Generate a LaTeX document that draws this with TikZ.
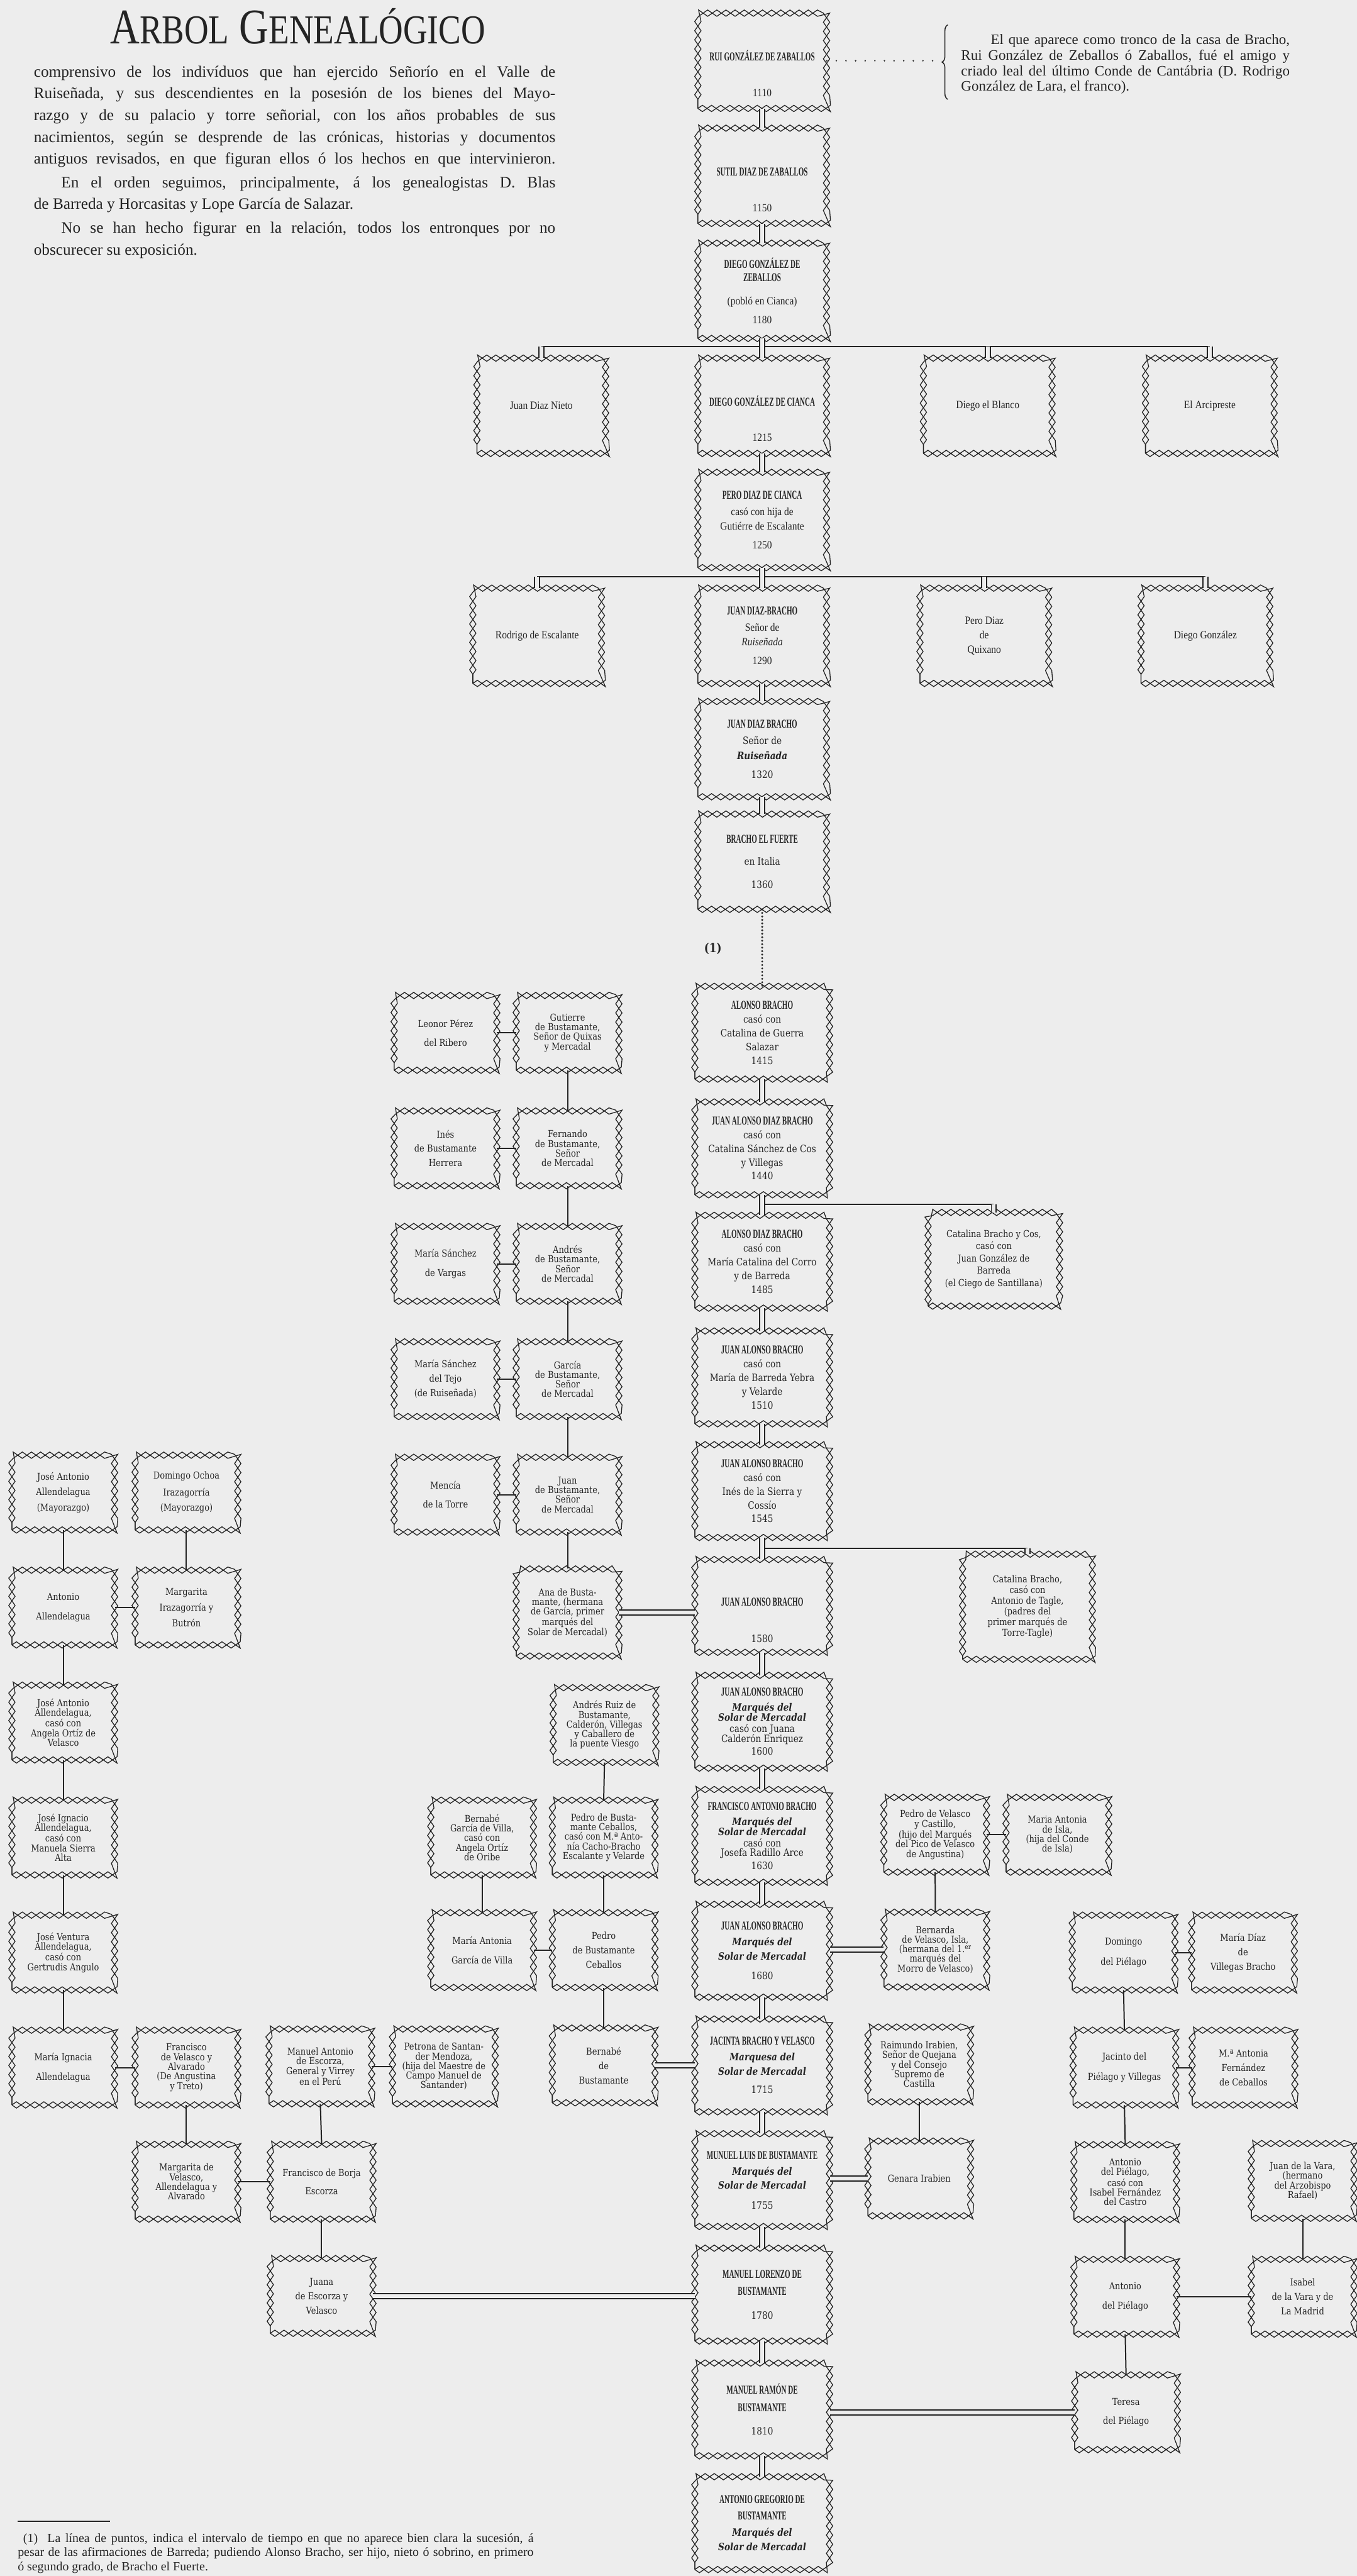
\documentclass[tikz,border=0pt]{standalone}
\usepackage{fontspec}
\usepackage{graphicx}
\setmainfont{Liberation Serif}
\newfontfamily\condfont[FakeStretch=0.88]{Liberation Serif}
\newfontfamily\namefont[FakeStretch=0.58]{Liberation Serif}
\newfontfamily\titlefont[FakeStretch=0.6]{Liberation Serif}
\newfontfamily\boxfont[FakeStretch=0.85]{DejaVu Serif}
\usepackage{tikz}
\usetikzlibrary{decorations.pathmorphing, decorations.pathreplacing}
\definecolor{paper}{gray}{.93}
\definecolor{ink}{gray}{.14}
\newcommand\nm[1]{{\namefont\bfseries\fontsize{12.5}{12.5}\selectfont #1}}
\newcommand\mq[1]{{\bfseries\itshape #1}}
\newcommand\bx[1]{{\boxfont\fontsize{10.5}{10.5}\selectfont #1}}
\newcommand\jline[2]{\makebox[#1][s]{#2}}
\tikzstyle{lattice} = [inner sep=0pt, align=center, text=ink,
    preaction={draw=ink, line width=.85pt, decorate,
        decoration={zigzag, amplitude=3.3pt, segment length=19pt}},
    postaction={draw=ink, line width=.85pt, decorate,
        decoration={zigzag, amplitude=3.3pt, segment length=19pt, mirror}}]
\tikzstyle{elder}   = [lattice, minimum width=4.7cm, minimum height=3.48cm,
    font=\condfont\fontsize{11.5}{17}\selectfont]
\tikzstyle{heir}    = [lattice, minimum width=4.92cm, minimum height=3.39cm,
    font=\boxfont\fontsize{10.5}{14.3}\selectfont]
\tikzstyle{kinbox}  = [lattice, minimum width=3.75cm, minimum height=2.73cm,
    font=\boxfont\fontsize{10}{10}\selectfont]
\tikzstyle{prose}   = [inner sep=0pt, align=left, text=ink]
\tikzstyle{lineage} = [draw=ink, double=paper, double distance=4pt, line width=1.2pt]
\tikzstyle{kin}     = [draw=ink, line width=1.3pt]
\tikzstyle{sibbar}  = [draw=ink, line width=1.5pt]

\begin{document}
\begin{tikzpicture}[x=0.06cm, y=-0.06cm]
    \useasboundingbox (0,0) rectangle (826,1568);
    \fill[paper] (0,0) rectangle (826,1568);

    % ===============================
    % 1. TEXTS
    % ===============================
    \node[prose, anchor=base west] (title) at (67,26.5) {\resizebox{13.7cm}{1.29cm}{\titlefont\fontsize{40}{40}\selectfont
        A{\fontsize{33}{33}\selectfont RBOL} G{\fontsize{33}{33}\selectfont ENEALÓGICO}}};

    \node[prose, anchor=north west, font=\fontsize{16.5}{22.6}\selectfont] (intro) at (20.5,40) {
        \jline{19.05cm}{comprensivo de los indivíduos que han ejercido Señorío en el Valle de}\\
        \jline{19.05cm}{Ruiseñada, y sus descendientes en la posesión de los bienes del Mayo-}\\
        \jline{19.05cm}{razgo y de su palacio y torre señorial, con los años probables de sus}\\
        \jline{19.05cm}{nacimientos, según se desprende de las crónicas, historias y documentos}\\
        \jline{19.05cm}{antiguos revisados, en que figuran ellos ó los hechos en que intervinieron.}\\[2pt]
        \jline{19.05cm}{\hspace*{1cm}En el orden seguimos, principalmente, á los genealogistas D. Blas}\\
        de Barreda y Horcasitas y Lope García de Salazar.\\[2pt]
        \jline{19.05cm}{\hspace*{1cm}No se han hecho figurar en la relación, todos los entronques por no}\\
        obscurecer su exposición.
    };

    \node[prose, anchor=north west, font=\fontsize{15}{16.2}\selectfont] (note) at (585,20.8) {
        \jline{12cm}{\hspace*{1.08cm}El que aparece como tronco de la casa de Bracho,}\\
        \jline{12cm}{Rui González de Zeballos ó Zaballos, fué el amigo y}\\
        \jline{12cm}{criado leal del último Conde de Cantábria (D. Rodrigo}\\
        González de Lara, el franco).
    };
    \draw[ink, line width=1pt, decorate, decoration={brace, amplitude=6pt}] (577,60.5) -- (577,15.1);

    \node[prose, anchor=north west, font=\fontsize{13}{14.5}\selectfont] (footnote) at (10.7,1542.2) {
        \jline{18.84cm}{\hspace*{0.2cm}(1)\ \ La línea de puntos, indica el intervalo de tiempo en que no aparece bien clara la sucesión, á}\\
        \jline{18.84cm}{pesar de las afirmaciones de Barreda; pudiendo Alonso Bracho, ser hijo, nieto ó sobrino, en primero}\\
        ó segundo grado, de Bracho el Fuerte.
    };
    \draw[ink, line width=1.2pt] (10.7,1534.6) -- (67,1534.6);

    \node[text=ink, font=\boxfont\bfseries\fontsize{13}{13}\selectfont] (mark1) at (434,577.3) {(1)};

    % ===============================
    % 2. MAIN LINE (centre column)
    % ===============================
    \node[elder] (rui) at (464,37) {\mbox{}\\[20pt]\nm{RUI GONZÁLEZ DE ZABALLOS}\\[20pt]1110};
    \node[elder] (sutil) at (464,107) {\mbox{}\\[20pt]\nm{SUTIL DIAZ DE ZABALLOS}\\[20pt]1150};
    \node[elder] (diegoz) at (464,177) {\nm{DIEGO GONZÁLEZ DE}\\[-3pt]\nm{ZEBALLOS}\\[7pt](pobló en Cianca)\\[3pt]1180};
    \node[elder] (cianca) at (464,247) {\mbox{}\\[20pt]\nm{DIEGO GONZÁLEZ DE CIANCA}\\[20pt]1215};
    \node[elder] (pero) at (464,316.5) {\nm{PERO DIAZ DE CIANCA}\\casó con hija de\\[-2pt]Gutiérre de Escalante\\[2.5pt]1250};
    \node[elder] (juandb) at (464,387) {\nm{JUAN DIAZ-BRACHO}\\Señor de\\[-2pt]\textit{Ruiseñada}\\[2.7pt]1290};
    \node[elder] (juandb2) at (464,456) {\nm{JUAN DIAZ BRACHO}\\\bx{Señor de}\\[-1.5pt]\bx{\mq{Ruiseñada}}\\[2.4pt]\bx{1320}};
    \node[elder] (fuerte) at (464,524.5) {\nm{BRACHO EL FUERTE}\\[6pt]\bx{en Italia}\\[7pt]\bx{1360}};

    \node[heir] (alonso) at (464,628.6) {\nm{ALONSO BRACHO}\\casó con\\Catalina de Guerra\\Salazar\\1415};
    \node[heir] (juanad) at (464,699) {\nm{JUAN ALONSO DIAZ BRACHO}\\casó con\\Catalina Sánchez de Cos\\y Villegas\\1440};
    \node[heir] (alonsod) at (464,768) {\nm{ALONSO DIAZ BRACHO}\\casó con\\María Catalina del Corro\\y de Barreda\\1485};
    \node[heir] (juana1510) at (464,838.4) {\nm{JUAN ALONSO BRACHO}\\casó con\\María de Barreda Yebra\\y Velarde\\1510};
    \node[heir] (juana1545) at (464,907.6) {\nm{JUAN ALONSO BRACHO}\\casó con\\Inés de la Sierra y\\Cossío\\1545};
    \node[heir] (juana1580) at (464,977.5) {\mbox{}\\[24pt]\nm{JUAN ALONSO BRACHO}\\[24pt]1580};
    \node[heir] (juana1600) at (464,1048) {\nm{JUAN ALONSO BRACHO}\\[1.2pt]\mq{Marqués del}\\[-3.8pt]\mq{Solar de Mercadal}\\[-2.3pt]casó con Juana\\[-4.3pt]Calderón Enriquez\\[-0.8pt]1600};
    \node[heir] (franciscoa) at (464,1117.5) {\nm{FRANCISCO ANTONIO BRACHO}\\[1.2pt]\mq{Marqués del}\\[-3.8pt]\mq{Solar de Mercadal}\\[-2.3pt]casó con\\[-4.3pt]Josefa Radillo Arce\\[-0.8pt]1630};
    \node[heir] (juana1680) at (464,1187.4) {\nm{JUAN ALONSO BRACHO}\\[2pt]\mq{Marqués del}\\[0.5pt]\mq{Solar de Mercadal}\\[6pt]1680};
    \node[heir] (jacinta) at (464,1257.2) {\nm{JACINTA BRACHO Y VELASCO}\\[2pt]\mq{Marquesa del}\\[0.5pt]\mq{Solar de Mercadal}\\[5pt]1715};
    \node[heir] (manuell) at (464,1327) {\nm{MUNUEL LUIS DE BUSTAMANTE}\\[2pt]\mq{Marqués del}\\[0.5pt]\mq{Solar de Mercadal}\\[6pt]1755};
    \node[heir] (manuello) at (464,1396.7) {\nm{MANUEL LORENZO DE}\\[3.6pt]\nm{BUSTAMANTE}\\[10.4pt]1780};
    \node[heir] (manuelr) at (464,1466.6) {\nm{MANUEL RAMÓN DE}\\[3.6pt]\nm{BUSTAMANTE}\\[10.4pt]1810};
    \node[heir] (antoniog) at (464,1535.8) {\nm{ANTONIO GREGORIO DE}\\[2.8pt]\nm{BUSTAMANTE}\\[2.7pt]\mq{Marqués del}\\[1pt]\mq{Solar de Mercadal}};

    % -------------------------------
    % SIBLINGS OF THE FIRST GENERATIONS
    % -------------------------------
    \node[elder] (nieto) at (329.5,247) {Juan Diaz Nieto};
    \node[elder] (blanco) at (601.3,247) {Diego el Blanco};
    \node[elder] (arcipreste) at (736.5,247) {El Arcipreste};
    \node[elder] (rodrigo) at (327,387) {Rodrigo de Escalante};
    \node[elder] (quixano) at (599.2,387) {Pero Diaz\\[-2pt]de\\[-2pt]Quixano};
    \node[elder] (diegog) at (733.8,387) {Diego González};

    \node[kinbox, minimum width=4.8cm, minimum height=3.42cm, font=\boxfont\fontsize{10}{12.7}\selectfont] (catcos) at (605,766.5)
        {Catalina Bracho y Cos,\\casó con\\Juan González de\\Barreda\\(el Ciego de Santillana)};
    \node[kinbox, minimum width=4.74cm, minimum height=3.84cm, font=\boxfont\fontsize{10}{11}\selectfont] (cattagle) at (625.5,978)
        {Catalina Bracho,\\casó con\\Antonio de Tagle,\\(padres del\\primer marqués de\\Torre-Tagle)};

    % -------------------------------
    % BUSTAMANTE, SEÑORES DE MERCADAL
    % -------------------------------
    \node[kinbox] (leonor) at (271.2,628.7) {Leonor Pérez\\[10pt]del Ribero};
    \node[kinbox] (gutierre) at (345.5,628.7) {Gutierre\\de Bustamante,\\Señor de Quixas\\y Mercadal};
    \node[kinbox] (ines) at (271.2,699) {Inés\\[5pt]de Bustamante\\[5pt]Herrera};
    \node[kinbox] (fernando) at (345.5,699) {Fernando\\de Bustamante,\\Señor\\de Mercadal};
    \node[kinbox] (mariav) at (271.2,769.3) {María Sánchez\\[10pt]de Vargas};
    \node[kinbox] (andres) at (345.5,769.3) {Andrés\\de Bustamante,\\Señor\\de Mercadal};
    \node[kinbox] (mariat) at (271.2,839.5) {María Sánchez\\[5pt]del Tejo\\[5pt](de Ruiseñada)};
    \node[kinbox] (garcia) at (345.5,839.5) {García\\de Bustamante,\\Señor\\de Mercadal};
    \node[kinbox] (mencia) at (271.2,909.8) {Mencía\\[10pt]de la Torre};
    \node[kinbox] (juanbus) at (345.5,909.8) {Juan\\de Bustamante,\\Señor\\de Mercadal};
    \node[kinbox, minimum height=3.18cm] (anabus) at (345.5,981.5) {Ana de Busta-\\mante, (hermana\\de García, primer\\marqués del\\Solar de Mercadal)};

    \node[kinbox] (andresr) at (368,1050) {Andrés Ruiz de\\Bustamante,\\Calderón, Villegas\\y Caballero de\\la puente Viesgo};
    \node[kinbox] (bernabeg) at (293.5,1118.5) {Bernabé\\García de Villa,\\casó con\\Angela Ortíz\\de Oribe};
    \node[kinbox] (pedroc) at (367.5,1118.5) {Pedro de Busta-\\mante Ceballos,\\casó con M.ª Anto-\\nía Cacho-Bracho\\Escalante y Velarde};
    \node[kinbox] (mariag) at (293.5,1187) {María Antonia\\[10pt]García de Villa};
    \node[kinbox] (pedrob) at (367.5,1187) {Pedro\\[5pt]de Bustamante\\[5pt]Ceballos};
    \node[kinbox] (bernabeb) at (367.5,1257.2) {Bernabé\\[5pt]de\\[5pt]Bustamante};

    % -------------------------------
    % ESCORZA
    % -------------------------------
    \node[kinbox] (manuela) at (195,1257.8) {Manuel Antonio\\de Escorza,\\General y Virrey\\en el Perú};
    \node[kinbox] (petrona) at (270.2,1257.8) {Petrona de Santan-\\der Mendoza,\\(hija del Maestre de\\Campo Manuel de\\Santander)};
    \node[kinbox] (borja) at (195.8,1328) {Francisco de Borja\\[9pt]Escorza};
    \node[kinbox] (juanaesc) at (195.8,1397.5) {Juana\\[5pt]de Escorza y\\[5pt]Velasco};

    % -------------------------------
    % ALLENDELAGUA
    % -------------------------------
    \node[kinbox] (joseant) at (38.5,908.5) {José Antonio\\[6pt]Allendelagua\\[6pt](Mayorazgo)};
    \node[kinbox] (domingoo) at (113.5,908.5) {Domingo Ochoa\\[6pt]Irazagorría\\[6pt](Mayorazgo)};
    \node[kinbox] (antonioa) at (38.5,978.5) {Antonio\\[10pt]Allendelagua};
    \node[kinbox] (margaritai) at (113.5,978.5) {Margarita\\[5pt]Irazagorría y\\[5pt]Butrón};
    \node[kinbox] (joseac) at (38.5,1048.5) {José Antonio\\Allendelagua,\\casó con\\Angela Ortíz de\\Velasco};
    \node[kinbox] (joseig) at (38.5,1118.5) {José Ignacio\\Allendelagua,\\casó con\\Manuela Sierra\\Alta};
    \node[kinbox] (josev) at (38.5,1188.5) {José Ventura\\Allendelagua,\\casó con\\Gertrudis Angulo};
    \node[kinbox] (mariaig) at (38.5,1258.5) {María Ignacia\\[10pt]Allendelagua};
    \node[kinbox] (franciscov) at (113.5,1258.5) {Francisco\\de Velasco y\\Alvarado\\(De Angustina\\y Treto)};
    \node[kinbox] (margaritav) at (113.5,1328) {Margarita de\\Velasco,\\Allendelagua y\\Alvarado};

    % -------------------------------
    % VELASCO, IRABIEN, PIÉLAGO
    % -------------------------------
    \node[kinbox] (pedrov) at (569.3,1116.8) {Pedro de Velasco\\y Castillo,\\(hijo del Marqués\\del Pico de Velasco\\de Angustina)};
    \node[kinbox] (mariaisla) at (643.7,1116.8) {Maria Antonia\\de Isla,\\(hija del Conde\\de Isla)};
    \node[kinbox] (bernarda) at (569.4,1186.7) {Bernarda\\de Velasco, Isla,\\(hermana del 1.\textsuperscript{er}\\marqués del\\Morro de Velasco)};
    \node[kinbox] (raimundo) at (559.6,1256.6) {Raimundo Irabien,\\Señor de Quejana\\y del Consejo\\Supremo de\\Castilla};
    \node[kinbox] (genara) at (559.6,1326) {Genara Irabien};

    \node[kinbox] (domingop) at (684,1188.5) {Domingo\\[10pt]del Piélago};
    \node[kinbox] (mariad) at (756.7,1188.5) {María Díaz\\[5pt]de\\[5pt]Villegas Bracho};
    \node[kinbox] (jacintop) at (684.5,1258.5) {Jacinto del\\[10pt]Piélago y Villegas};
    \node[kinbox] (mantoniaf) at (757,1258.5) {M.ª Antonia\\[5pt]Fernández\\[5pt]de Ceballos};
    \node[kinbox] (antoniopc) at (685,1328.2) {Antonio\\del Piélago,\\casó con\\Isabel Fernández\\del Castro};
    \node[kinbox] (antoniop) at (685,1398) {Antonio\\[10pt]del Piélago};
    \node[kinbox] (teresa) at (685.5,1468.3) {Teresa\\[10pt]del Piélago};
    \node[kinbox] (juanvara) at (793,1327.5) {Juan de la Vara,\\(hermano\\del Arzobispo\\Rafael)};
    \node[kinbox] (isabelv) at (793,1398) {Isabel\\[5pt]de la Vara y de\\[5pt]La Madrid};

    % ===============================
    % 3. CONNECTIONS
    % ===============================

    % Sibling forks (drawn first, the double lines cover them)
    \coordinate (fork1) at (464,211);
    \coordinate (fork2) at (464,351);
    \coordinate (fork3) at (464,733);
    \coordinate (fork4) at (464,942.6);
    \draw[sibbar] (nieto.north |- fork1) -- (arcipreste.north |- fork1);
    \draw[sibbar] (rodrigo.north |- fork2) -- (diegog.north |- fork2);
    \draw[sibbar] (fork3) -- (catcos.north |- fork3);
    \draw[sibbar] (fork4) -- (cattagle.north |- fork4);
    \foreach \s in {nieto, blanco, arcipreste}
        \draw[lineage] (\s.north |- fork1) -- (\s.north);
    \foreach \s in {rodrigo, quixano, diegog}
        \draw[lineage] (\s.north |- fork2) -- (\s.north);
    \draw[lineage] (catcos.north |- fork3) -- (catcos.north);
    \draw[lineage] (cattagle.north |- fork4) -- (cattagle.north);

    % Main line
    \foreach \a/\b in {rui/sutil, sutil/diegoz, diegoz/cianca, cianca/pero, pero/juandb,
        juandb/juandb2, juandb2/fuerte, alonso/juanad, juanad/alonsod, alonsod/juana1510,
        juana1510/juana1545, juana1545/juana1580, juana1580/juana1600, juana1600/franciscoa,
        franciscoa/juana1680, juana1680/jacinta, jacinta/manuell, manuell/manuello,
        manuello/manuelr, manuelr/antoniog}
        \draw[lineage] (\a.south) -- (\b.north);
    \draw[ink, line width=2.2pt, line cap=round, dash pattern=on 0pt off 3.6pt] (fuerte.south) -- (alonso.north);

    % Note on the founder
    \coordinate (bracetip) at (572,37);
    \draw[ink, line width=1.7pt, line cap=round, dash pattern=on 0pt off 10pt] (rui.east) -- (bracetip);

    % Marriages into the main line
    \draw[lineage] (anabus.east) -- (anabus.east -| juana1580.west);
    \draw[lineage] (bernarda.west -| juana1680.east) -- (bernarda.west);
    \draw[lineage] (bernabeb.east) -- (bernabeb.east -| jacinta.west);
    \draw[lineage] (genara.west -| manuell.east) -- (genara.west);
    \draw[lineage] (juanaesc.east) -- (juanaesc.east -| manuello.west);
    \draw[lineage] (teresa.west -| manuelr.east) -- (teresa.west);

    % Side families
    \foreach \a/\b in {leonor.east/gutierre.west, ines.east/fernando.west, mariav.east/andres.west,
        mariat.east/garcia.west, mencia.east/juanbus.west,
        gutierre.south/fernando.north, fernando.south/andres.north, andres.south/garcia.north,
        garcia.south/juanbus.north, juanbus.south/anabus.north,
        andresr.south/pedroc.north, pedroc.south/pedrob.north, pedrob.south/bernabeb.north,
        bernabeg.south/mariag.north, mariag.east/pedrob.west,
        manuela.east/petrona.west, manuela.south/borja.north, borja.south/juanaesc.north,
        margaritav.east/borja.west,
        joseant.south/antonioa.north, domingoo.south/margaritai.north, antonioa.east/margaritai.west,
        antonioa.south/joseac.north, joseac.south/joseig.north, joseig.south/josev.north,
        josev.south/mariaig.north, mariaig.east/franciscov.west, franciscov.south/margaritav.north,
        pedrov.east/mariaisla.west, pedrov.south/bernarda.north, raimundo.south/genara.north,
        domingop.east/mariad.west, domingop.south/jacintop.north, jacintop.east/mantoniaf.west,
        jacintop.south/antoniopc.north, antoniopc.south/antoniop.north, antoniop.east/isabelv.west,
        juanvara.south/isabelv.north, antoniop.south/teresa.north}
        \draw[kin] (\a) -- (\b);

\end{tikzpicture}
\end{document}
